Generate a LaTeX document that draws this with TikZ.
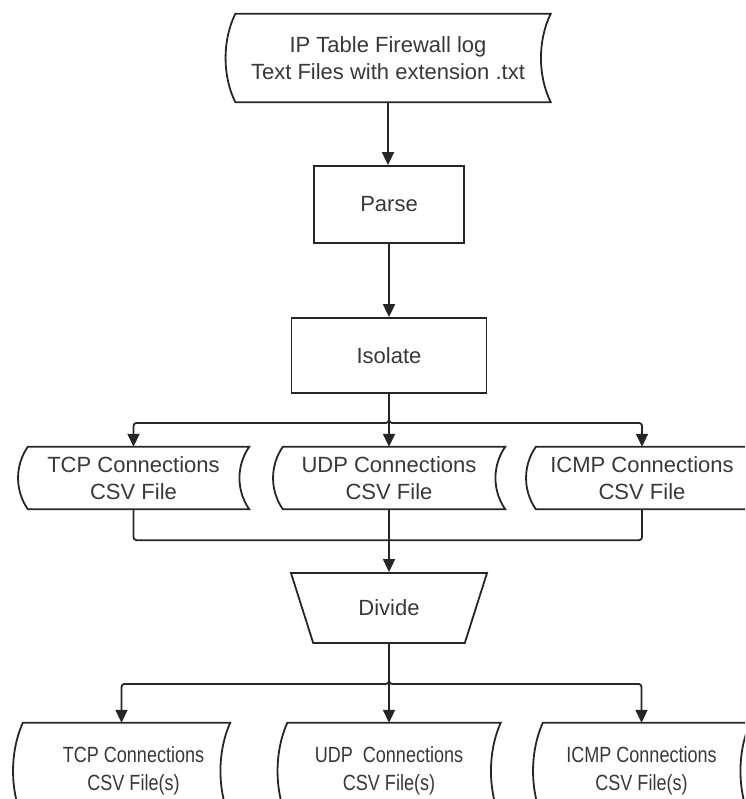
\documentclass[tikz,border=0pt]{standalone}
\usepackage{fontspec}
\newfontfamily\flowfont{Liberation Sans}
\newfontfamily\flownarrow[FakeStretch=0.82]{Liberation Sans}
\usetikzlibrary{shapes.geometric,arrows.meta,calc}
\definecolor{flowline}{HTML}{262626}
\definecolor{flowtext}{HTML}{383838}

% stored data outline round a node (flat top and bottom, both sides bent left)
\newcommand{\storedshape}[1]{%
    \draw[line] ([xshift=10pt]#1.north west) -- (#1.north east)
        .. controls ([xshift=-13pt]$(#1.north east)!.3!(#1.south east)$) and ([xshift=-13pt]$(#1.north east)!.7!(#1.south east)$) .. (#1.south east)
        -- ([xshift=10pt]#1.south west)
        .. controls ([xshift=-3pt]$(#1.south west)!.3!(#1.north west)$) and ([xshift=-3pt]$(#1.south west)!.7!(#1.north west)$) .. ([xshift=10pt]#1.north west)
        -- cycle;}

\begin{document}
\begin{tikzpicture}[x=1pt,y=-1pt,
    line/.style={draw=flowline,line width=1.8pt},
    arr/.style={line,-{Triangle[width=12pt,length=13pt]}},
    link/.style={arr,rounded corners=3pt}]

    \useasboundingbox (0,0) rectangle (745,799);
    \clip (0,0) rectangle (745,799);

    \begin{scope}[every node/.style={font=\flowfont\fontsize{22}{27.5}\selectfont,text=flowtext,align=center,inner sep=0pt}]
        \node[minimum width=325pt,minimum height=88pt] (log) at (388,58) {IP Table Firewall log\\Text Files with extension .txt};
        \node[line,minimum width=150pt,minimum height=77pt] (parse) at (389,204.5) {Parse};
        \node[line,minimum width=195pt,minimum height=75pt] (isolate) at (389,355.5) {Isolate};

        \node[minimum width=231pt,minimum height=62pt] (tcp) at (133.5,478) {TCP Connections\\CSV File};
        \node[minimum width=232pt,minimum height=62pt] (udp) at (389,478) {UDP Connections\\CSV File};
        \node[minimum width=232pt,minimum height=62pt] (icmp) at (642,478) {ICMP Connections\\CSV File};

        \node[line,trapezium,trapezium angle=119,trapezium stretches=true,minimum width=197pt,minimum height=70pt] (divide) at (389,608) {Divide};

        \node[font=\flownarrow\fontsize{22}{28}\selectfont,minimum width=217pt,minimum height=96pt] (tcpout) at (121.5,771) {\hspace*{24pt}TCP Connections\\\hspace*{24pt}CSV File(s)};
        \node[font=\flownarrow\fontsize{22}{28}\selectfont,minimum width=223pt,minimum height=96pt] (udpout) at (389,771) {UDP~~Connections\\CSV File(s)};
        \node[font=\flownarrow\fontsize{22}{28}\selectfont,minimum width=217pt,minimum height=96pt] (icmpout) at (641.5,771) {ICMP Connections\\CSV File(s)};
    \end{scope}

    \storedshape{log}
    \storedshape{tcp}
    \storedshape{udp}
    \storedshape{icmp}
    \storedshape{tcpout}
    \storedshape{udpout}
    \storedshape{icmpout}

    % log -> parse -> isolate
    \draw[arr] (log.south) -- (log.south |- parse.north);
    \draw[arr] (parse) -- (isolate);

    % isolate splits into the three csv files
    \draw[arr] (isolate.south) -- (udp.north);
    \draw[link] (isolate.south) -- ++(0,29) -| (tcp.north);
    \draw[link] (isolate.south) -- ++(0,29) -| (icmp.north);

    % csv files join into divide
    \draw[line,rounded corners=3pt] (tcp.south) -- ++(0,31) -| (icmp.south);
    \draw[arr] (udp.south) -- (divide.north);

    % divide splits again
    \draw[arr] (divide.south) -- (udpout.north);
    \draw[link] (divide.south) -- ++(0,40) -| (tcpout.north);
    \draw[link] (divide.south) -- ++(0,40) -| (icmpout.north);

\end{tikzpicture}
\end{document}
